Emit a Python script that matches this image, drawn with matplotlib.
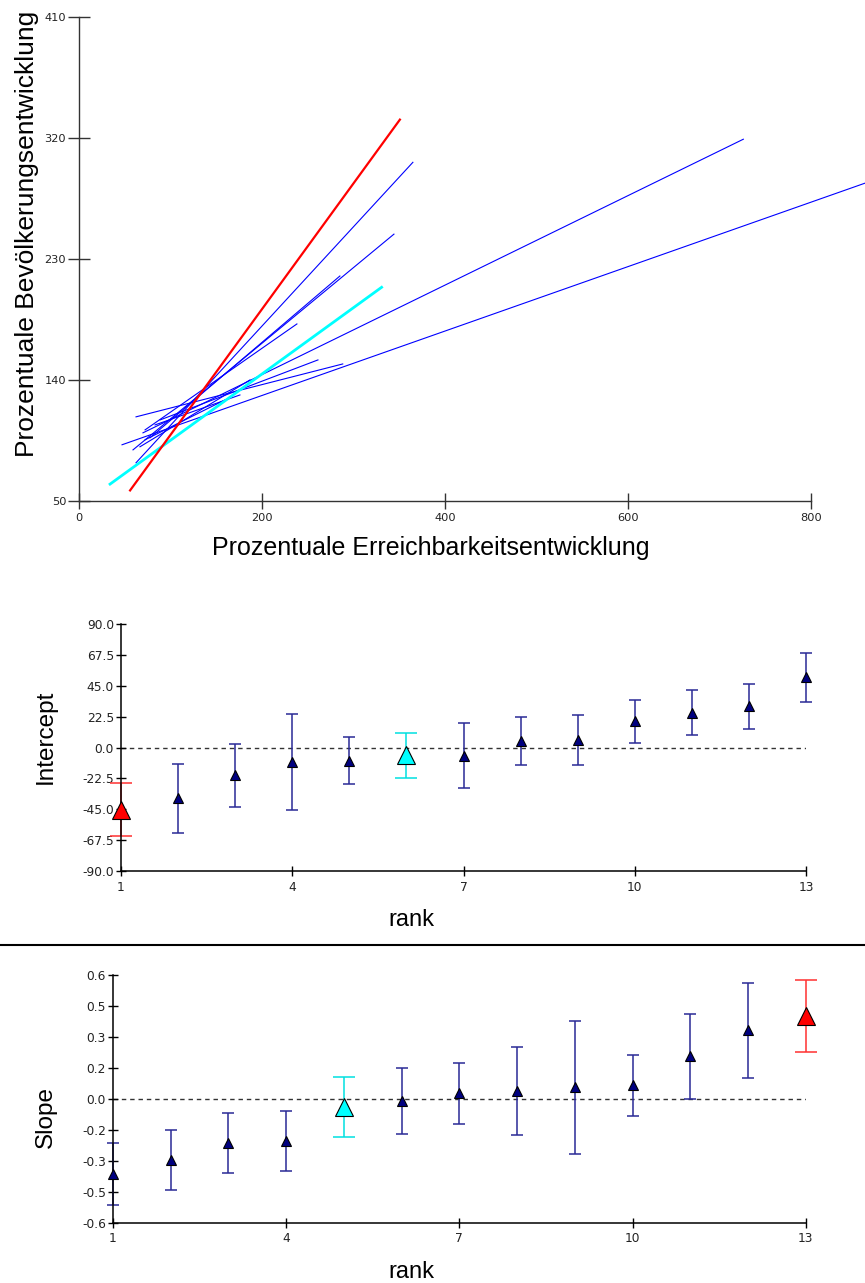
import matplotlib
matplotlib.use("Agg")
import matplotlib.pyplot as plt
import numpy as np

# --- top panel: regression lines (start / end points)
blue_x0 = [69.6, 46.7, 62.0, 58.7, 77.3, 71.9, 88.3, 62.0, 66.3, 82.8, 71.9]
blue_y0 = [100.6, 91.7, 78.3, 87.9, 96.9, 102.8, 110.2, 112.5, 90.2, 106.5, 95.4]
blue_x1 = [726.0, 870.0, 364.7, 344.0, 284.9, 237.9, 260.9, 288.0, 186.6, 175.6, 159.2]
blue_y1 = [319.3, 289.2, 302.1, 248.6, 217.4, 181.7, 154.9, 151.9, 140.0, 128.8, 125.1]
red_x = [55.5, 350.5]
red_y = [57.7, 333.9]
cyan_x = [33.6, 330.5]
cyan_y = [62.4, 209.0]
top_xticks = [0, 200, 400, 600, 800]
top_yticks = [50, 140, 230, 320, 410]

# --- intercept panel
ranks = np.arange(1, 14)
intercept = [-45.2, -37.0, -20.2, -10.2, -9.6, -5.8, -5.9, 4.8, 5.6, 19.0, 25.5, 30.0, 51.2]
intercept_err = [19.3, 25.0, 23.0, 35.0, 17.0, 16.6, 23.5, 17.3, 18.0, 16.0, 16.4, 16.5, 17.9]
intercept_red, intercept_cyan = 1, 6
intercept_ticks = [-90.0, -67.5, -45.0, -22.5, 0.0, 22.5, 45.0, 67.5, 90.0]
intercept_labels = ["-90.0", "-67.5", "-45.0", "-22.5", "0.0", "22.5", "45.0", "67.5", "90.0"]

# --- slope panel
slope = [-0.363, -0.295, -0.213, -0.203, -0.040, -0.010, 0.027, 0.038, 0.056, 0.066, 0.207, 0.331, 0.400]
slope_err = [0.151, 0.145, 0.145, 0.145, 0.145, 0.161, 0.148, 0.212, 0.322, 0.148, 0.206, 0.232, 0.174]
slope_red, slope_cyan = 13, 5
slope_ticks = [-0.6, -0.45, -0.3, -0.15, 0.0, 0.15, 0.3, 0.45, 0.6]
slope_labels = ["-0.6", "-0.5", "-0.3", "-0.2", "0.0", "0.2", "0.3", "0.5", "0.6"]
rank_ticks = [1, 4, 7, 10, 13]

LABEL_FONT = "Liberation Sans"
TICK_FONT = "DejaVu Sans"

fig = plt.figure(figsize=(8.65, 12.83), dpi=100)

# ---------------- top ----------------
ax = fig.add_axes([0.0917, 0.6097, 0.8459, 0.3767])
for x0, y0, x1, y1 in zip(blue_x0, blue_y0, blue_x1, blue_y1):
    ax.plot([x0, x1], [y0, y1], color="#0000ff", lw=0.8, clip_on=False, zorder=2)
ax.plot(cyan_x, cyan_y, color="#00ffff", lw=2.0, clip_on=False, zorder=3)
ax.plot(red_x, red_y, color="#ff0000", lw=1.6, clip_on=False, zorder=4)
ax.set_xlim(0, 800)
ax.set_ylim(50, 410)
ax.set_xticks(top_xticks)
ax.set_yticks(top_yticks)
for s in ["top", "right"]:
    ax.spines[s].set_visible(False)
for s in ["left", "bottom"]:
    ax.spines[s].set_color("#333333")
    ax.spines[s].set_linewidth(1.0)
ax.tick_params(axis="y", direction="inout", length=16, width=1.0, color="#333333", pad=1.5,
               labelsize=8.2, labelcolor="#222222")
ax.tick_params(axis="x", direction="inout", length=12, width=1.0, color="#333333", pad=2.5,
               labelsize=8.2, labelcolor="#222222")
for lab in ax.get_xticklabels() + ax.get_yticklabels():
    lab.set_family(TICK_FONT)
fig.text(0.0312, 0.8176, "Prozentuale Bevölkerungsentwicklung", rotation=90, ha="center",
         va="center", fontsize=19, family=LABEL_FONT)
fig.text(0.4983, 0.5674, "Prozentuale Erreichbarkeitsentwicklung", ha="center",
         va="baseline", fontsize=18, family=LABEL_FONT)


def rank_panel(rect, values, errors, red_rank, cyan_rank, ticks, labels, ylabel, ylabel_y, rank_y):
    a = fig.add_axes(rect)
    a.axhline(0, color="#333333", lw=1.0, dashes=(3.2, 2.8), zorder=1)
    for r, v, e in zip(ranks, values, errors):
        if r == red_rank:
            fc, ec, ms, cap = "#ff0000", "#ff3030", 13, 8
        elif r == cyan_rank:
            fc, ec, ms, cap = "#00ffff", "#00e0e0", 13, 8
        else:
            fc, ec, ms, cap = "#000080", "#2a2a96", 7, 4
        a.errorbar(r, v, yerr=e, fmt="none", ecolor=ec, elinewidth=1.1, capsize=cap,
                   capthick=1.1, clip_on=False, zorder=2)
        a.plot(r, v, marker="^", ms=ms, mfc=fc, mec="black", mew=0.8, ls="none",
               clip_on=False, zorder=3)
    a.set_xlim(1, 13)
    a.set_ylim(ticks[0], ticks[-1])
    a.set_xticks(rank_ticks)
    a.set_yticks(ticks)
    a.set_yticklabels(labels)
    for s in ["top", "right"]:
        a.spines[s].set_visible(False)
    for s in ["left", "bottom"]:
        a.spines[s].set_linewidth(1.1)
    a.tick_params(axis="both", direction="inout", length=7, width=1.0, labelsize=8.8,
                  labelcolor="#222222")
    a.tick_params(axis="y", pad=1.5)
    a.tick_params(axis="x", pad=3.5)
    for lab in a.get_xticklabels() + a.get_yticklabels():
        lab.set_family(TICK_FONT)
    fig.text(0.0532, ylabel_y, ylabel, rotation=90, ha="center", va="center",
             fontsize=17.5, family=LABEL_FONT)
    fig.text(0.475, rank_y, "rank", ha="center", va="baseline", fontsize=17,
             family=LABEL_FONT)
    return a


rank_panel([0.1399, 0.3211, 0.7919, 0.1925], intercept, intercept_err, intercept_red,
           intercept_cyan, intercept_ticks, intercept_labels, "Intercept", 0.4256, 0.2783)
rank_panel([0.1306, 0.0470, 0.8009, 0.1931], slope, slope_err, slope_red,
           slope_cyan, slope_ticks, slope_labels, "Slope", 0.1290, 0.0039)

# separator between the two lower panels
fig.add_artist(plt.Line2D([0, 1], [0.2634, 0.2634], color="black", lw=1.5,
                          transform=fig.transFigure))

fig.savefig("out.png", dpi=100)
